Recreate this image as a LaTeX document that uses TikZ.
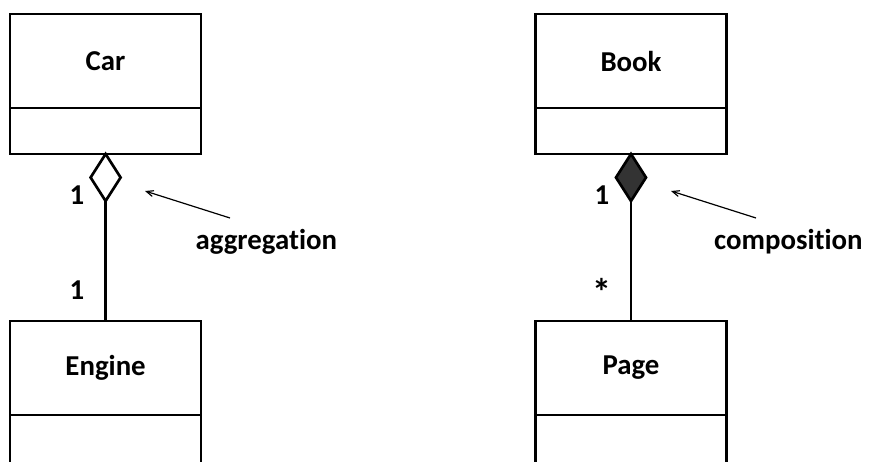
\documentclass[tikz,border=0pt]{standalone}
\usepackage{fontspec}
\setmainfont[Ligatures=NoCommon]{Carlito}
\usepackage{tikz}
\usetikzlibrary{calc, shapes, arrows}
\usetikzlibrary{positioning}
\tikzstyle{classbox} = [rectangle, draw, line width=1.9pt, outer sep=0pt, minimum width=4.775cm]
\tikzstyle{assoc} = [line width=1.9pt]
\tikzstyle{hint} = [->, >=angle 45, line width=0.85pt]
\tikzstyle{umlfont} = [font=\fontsize{20.5}{24}\selectfont\bfseries]

\begin{document}
\begin{tikzpicture}[umlfont]
        \useasboundingbox (0, 0) rectangle (21.725, -11.55);
        \clip (0, 0) rectangle (21.725, -11.55);

        % left: aggregation
        \node[classbox, minimum height=2.35cm] at (2.64, -1.525) (Car) {Car};
        \node[classbox, minimum height=1.15cm, below=0pt of Car] (Car_attr) {};
        \node[classbox, minimum height=2.35cm] at (2.64, -9.2) (Engine) {Engine};
        \node[classbox, minimum height=2cm, below=0pt of Engine] (Engine_attr) {};
        \node[diamond, draw, assoc, fill=white, inner sep=0pt, outer sep=0pt, aspect=0.64,
              minimum width=0.75cm, minimum height=1.175cm, anchor=north] at (Car_attr.south) (aggr) {};
        \draw[assoc] (aggr.south) -- (Engine.north);
        \node at (1.925, -4.875) (aggr_one) {1};
        \node at (1.925, -7.25) (aggr_many) {1};
        \node at (6.66, -6.05) (aggr_label) {aggregation};
        \coordinate (aggr_from) at (5.75, -5.45);
        \coordinate (aggr_to) at (3.625, -4.775);
        \draw[hint] (aggr_from) -- (aggr_to);

        % right: composition
        \node[classbox, minimum height=2.35cm] at (15.775, -1.525) (Book) {Book};
        \node[classbox, minimum height=1.15cm, below=0pt of Book] (Book_attr) {};
        \node[classbox, minimum height=2.35cm] at (15.775, -9.2) (Page) {Page};
        \node[classbox, minimum height=2cm, below=0pt of Page] (Page_attr) {};
        \node[diamond, draw, assoc, fill=black!80, inner sep=0pt, outer sep=0pt, aspect=0.64,
              minimum width=0.75cm, minimum height=1.175cm, anchor=north] at (Book_attr.south) (comp) {};
        \draw[assoc] (comp.south) -- (Page.north);
        \node at (15.05, -4.875) (comp_one) {1};
        \node[font=\fontsize{27}{30}\selectfont\bfseries] at (15.05, -7.3) (comp_many) {*};
        \node at (19.71, -6.05) (comp_label) {composition};
        \coordinate (comp_from) at (18.9, -5.45);
        \coordinate (comp_to) at (16.775, -4.775);
        \draw[hint] (comp_from) -- (comp_to);
    \end{tikzpicture}
\end{document}
